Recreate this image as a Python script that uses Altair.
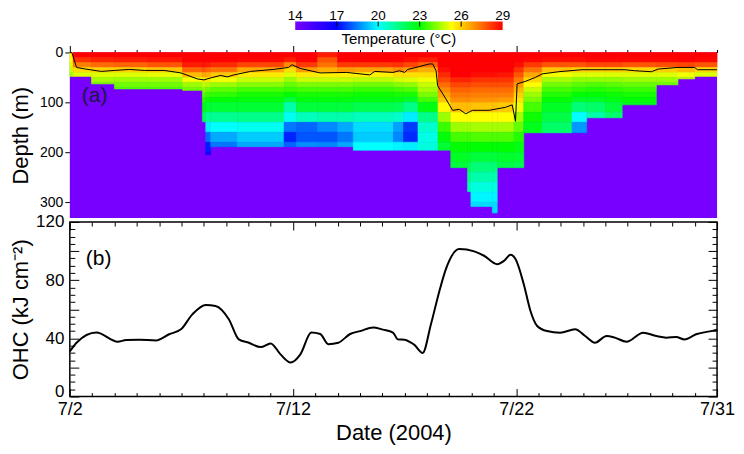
import altair as alt
import pandas as pd

FONT = "Liberation Sans"

# ---------------- colour scale (temperature, deg C) ----------------
temp_stops = [14, 15.5, 17, 20, 23, 25.3, 27.2, 29]
temp_colors = ["#7800ff", "#3c00ff", "#0000ff", "#00ffff", "#00ff00", "#ffff00", "#ff8000", "#ff0000"]
cbar_labels = [14, 17, 20, 23, 26, 29]
cbar_ticks = [17, 20, 23, 26]

# ---------------- panel (a): temperature section ----------------
depth_edges = [0, 10, 20, 30, 40, 50, 60, 70, 80, 90, 100, 120, 140, 160, 180,
               200, 220, 240, 260, 280, 300, 320, 340]
# column edges in July day-of-month
col_edges = [2.00, 2.15, 2.97, 4.00, 5.50, 7.05, 7.94, 8.09, 8.31, 9.50, 11.60, 12.15,
             13.10, 14.00, 14.70, 16.50, 16.95, 17.60, 18.50, 19.07, 19.82, 19.97, 20.93,
             21.15, 21.90, 22.34, 23.16, 24.50, 25.16, 26.00, 26.75, 28.28, 29.25, 30.00, 31.00]
col_bottom = [48, 48, 63, 73, 73, 76, 139, 205, 189, 189, 189, 189, 189, 189, 196, 196, 196,
              196, 196, 231, 279, 309, 322, 231, 231, 161, 161, 161, 131, 131, 105, 65, 53, 48]
col_profiles = [
    [25.5, 25.3, 25.0, 24.8, 24.5],
    [29.0, 28.3, 27.2, 25.8, 25.0],
    [29.0, 28.5, 27.5, 26.0, 25.0, 24.5, 24.1],
    [29.0, 28.6, 27.6, 26.0, 25.0, 24.4, 24.0, 23.7],
    [29.0, 28.7, 27.8, 26.2, 25.1, 24.4, 24.0, 23.7],
    [29.0, 29.0, 28.6, 27.6, 26.3, 25.2, 24.4, 24.0],
    [29.0, 29.0, 28.7, 27.8, 26.6, 25.6, 24.8, 24.3, 23.8, 23.4, 22.8, 22.0],
    [29.0, 29.0, 28.6, 27.6, 26.5, 25.6, 24.6, 24.0, 23.5, 23.1, 22.4, 21.3, 19.8, 18.3, 17.3, 16.6],
    [29.0, 29.0, 28.4, 27.4, 26.1, 25.2, 24.4, 23.8, 23.4, 23.0, 22.4, 21.3, 20.0, 19.0, 18.4],
    [29.0, 28.9, 28.0, 26.6, 25.6, 24.8, 24.2, 23.6, 23.2, 22.9, 22.4, 21.4, 20.2, 19.4, 19.0],
    [29.0, 28.6, 27.0, 25.8, 25.0, 24.4, 23.9, 23.5, 23.0, 22.4, 21.0, 20.2, 18.4, 17.4, 18.2],
    [29.0, 29.0, 28.2, 26.8, 25.6, 24.8, 24.1, 23.6, 23.2, 22.9, 22.3, 20.8, 18.2, 18.0, 18.7],
    [28.6, 27.8, 27.4, 26.5, 25.5, 24.8, 24.1, 23.6, 23.2, 22.9, 22.3, 21.0, 18.6, 18.0, 18.6],
    [29.0, 29.0, 28.2, 26.8, 25.5, 24.8, 24.1, 23.6, 23.2, 22.9, 22.3, 21.0, 19.0, 18.4, 19.0],
    [29.0, 29.0, 28.2, 26.7, 25.5, 24.7, 24.0, 23.5, 23.1, 22.8, 22.1, 20.8, 19.6, 19.4, 20.0],
    [29.0, 29.0, 28.3, 27.0, 25.8, 24.9, 24.2, 23.6, 23.2, 22.8, 22.0, 20.6, 18.9, 18.6, 19.9],
    [29.0, 28.8, 28.0, 26.8, 25.8, 25.0, 24.3, 23.7, 23.2, 22.6, 21.4, 19.8, 17.7, 17.5, 19.8],
    [29.0, 28.6, 27.6, 26.5, 25.8, 25.2, 24.8, 24.5, 24.1, 23.6, 22.8, 21.4, 20.6, 20.3, 20.4],
    [29.0, 29.0, 29.0, 28.8, 28.4, 28.0, 27.5, 27.0, 26.6, 26.2, 25.4, 24.4, 23.5, 22.9, 22.4],
    [29.0, 29.0, 29.0, 29.0, 29.0, 28.5, 28.0, 27.6, 27.3, 27.0, 26.3, 25.3, 24.4, 23.6, 23.0, 22.6, 22.3],
    [29.0, 29.0, 29.0, 29.0, 29.0, 28.5, 28.0, 27.6, 27.3, 27.0, 26.3, 25.3, 24.4, 23.6, 23.0, 22.5, 22.1, 21.5, 21.0],
    [29.0, 29.0, 29.0, 29.0, 28.8, 28.3, 27.9, 27.5, 27.2, 26.9, 26.2, 25.3, 24.5, 23.7, 23.0, 22.3, 21.6, 21.0, 20.4, 19.9, 19.6],
    [29.0, 29.0, 29.0, 29.0, 28.8, 28.3, 27.9, 27.5, 27.2, 26.9, 26.2, 25.3, 24.5, 23.7, 23.0, 22.3, 21.6, 21.0, 20.4, 19.9, 19.6, 19.4],
    [29.0, 29.0, 29.0, 29.0, 28.7, 28.3, 27.9, 27.5, 27.2, 26.8, 26.1, 25.3, 24.5, 23.7, 23.0, 22.5, 22.2],
    [29.0, 29.0, 28.8, 28.3, 27.8, 27.3, 26.8, 26.4, 26.0, 25.7, 25.2, 24.5, 23.9, 23.3, 22.8, 22.4, 22.1],
    [29.0, 28.9, 28.2, 27.4, 26.6, 25.9, 25.3, 24.8, 24.4, 24.1, 23.6, 23.1, 22.7, 22.5],
    [29.0, 28.8, 27.8, 26.2, 25.2, 24.5, 24.0, 23.6, 23.3, 23.0, 22.6, 22.2, 21.8, 21.5],
    [29.0, 28.8, 27.8, 26.0, 25.0, 24.3, 23.8, 23.4, 23.0, 22.6, 21.6, 20.0, 18.8, 18.6],
    [29.0, 28.9, 28.0, 26.0, 25.0, 24.3, 23.7, 23.3, 23.0, 22.6, 21.8, 21.0],
    [29.0, 28.9, 28.0, 26.0, 25.0, 24.3, 23.8, 23.4, 23.1, 22.8, 22.3, 21.7],
    [29.0, 28.9, 27.8, 25.9, 25.0, 24.4, 23.9, 23.5, 23.2, 23.0, 22.7],
    [29.0, 28.9, 27.9, 26.0, 25.0, 24.4, 24.0],
    [29.0, 29.0, 28.0, 26.3, 25.2, 24.6],
    [29.0, 28.9, 27.8, 25.9, 25.0],
]
# black isotherm line
iso_day = [2.00, 2.09, 2.30, 2.67, 3.41, 4.00, 4.67, 5.34, 6.23, 6.98, 7.71, 8.01, 8.31, 8.76, 9.05,
           9.35, 10.09, 11.13, 11.80, 11.95, 12.32, 13.21, 14.40, 15.44, 15.66, 16.48, 16.77,
           17.00, 17.14, 17.51, 18.11, 18.26, 18.41, 18.48, 18.85, 19.15, 19.45, 19.74, 20.04,
           20.78, 21.52, 21.82, 21.97, 22.04, 22.41, 22.86, 23.16, 23.90, 24.94, 25.98, 26.87,
           27.31, 28.06, 28.36, 29.25, 29.99, 30.13, 31.00]
iso_depth = [0, 0, 30, 33, 38, 36, 34, 36, 36, 41, 53, 55, 51, 46, 49,
             45, 38, 34, 30, 24.5, 32, 41, 40, 45, 38, 40, 36.6,
             40, 34, 30, 23, 23, 36.6, 66.6, 93, 116, 114, 123, 116,
             116, 110, 105, 138, 63, 58, 50, 43, 38.6, 34.6, 34.6, 34.6,
             36.6, 38.6, 33.3, 30, 30, 34.6, 34.6]

# ---------------- panel (b): ocean heat content ----------------
ohc_day = [2.00, 2.30, 3.19, 4.15, 4.52, 5.12, 5.86, 6.45, 6.98, 7.49, 8.09, 8.53, 9.13, 9.57,
           10.02, 10.55, 11.00, 11.44, 11.89, 12.33, 12.82, 13.22, 13.58, 14.03, 14.56, 15.01,
           15.59, 16.03, 16.48, 16.70, 17.00, 17.29, 17.44, 17.81, 18.18, 18.56, 18.85, 19.45,
           20.12, 20.56, 21.15, 21.45, 21.75, 21.97, 22.34, 22.64, 22.94, 23.38, 23.97, 24.64,
           25.09, 25.53, 26.05, 26.42, 26.94, 27.69, 28.28, 28.73, 29.17, 29.54, 30.06, 30.88, 31.00]
ohc_value = [31, 37, 44, 37.7, 38.8, 39, 38.6, 42.8, 46.2, 56.5, 63, 62.3, 53, 39.3,
             37, 34, 36.5, 29, 23.4, 29, 44, 43, 36, 37, 43, 45,
             47.5, 46, 44, 39.3, 39.0, 37, 35.5, 30, 49.7, 72.6, 87.6, 101.4,
             99.8, 96.8, 91, 93.3, 97.5, 94.5, 77.2, 58.8, 48.5, 45, 43.9, 46.2,
             41.6, 37, 41.6, 40.5, 37.7, 43.9, 41.6, 40.5, 40.9, 39.3, 42.8, 45.5, 46]

depth_ticks = [0, 100, 200, 300]
ohc_ticks = [0, 40, 80, 120]
date_labels = [2, 12, 22, 31]
date_major_a = [2, 12, 22]
DAY_MIN, DAY_MAX = 2, 31
DEPTH_MAX = 332
OHC_MAX = 120

W, HC, HA, HB = 649, 27, 166, 175
CB_RANGE = [226, 434]

# ---------------- tables ----------------
rows = []
for s, e, b, prof in zip(col_edges[:-1], col_edges[1:], col_bottom, col_profiles):
    for j, t in enumerate(prof):
        top = depth_edges[j]
        if top >= b:
            break
        rows.append({"x0": s, "x1": e, "d0": top, "d1": min(depth_edges[j + 1], b), "temp": t})
cells = pd.DataFrame(rows)
bg = pd.DataFrame({"x0": [DAY_MIN], "x1": [DAY_MAX], "d0": [0], "d1": [DEPTH_MAX], "temp": [temp_stops[0]]})
iso_df = pd.DataFrame({"day": iso_day, "depth": iso_depth})
ohc_df = pd.DataFrame({"day": ohc_day, "ohc": ohc_value})

color_scale = alt.Scale(domain=temp_stops, range=temp_colors, interpolate="rgb", clamp=True)
xa = alt.Scale(domain=[DAY_MIN, DAY_MAX], nice=False, zero=False)
ya = alt.Scale(domain=[0, DEPTH_MAX], reverse=True, nice=False, zero=False)


def is_in(vals):
    return " || ".join(f"datum.value == {v}" for v in vals)


# ---------------- colour bar (own row) ----------------
cb_scale = alt.Scale(domain=[temp_stops[0], temp_stops[-1]], range=CB_RANGE, nice=False, zero=False)
span = temp_stops[-1] - temp_stops[0]
gradient = alt.LinearGradient(
    gradient="linear", x1=0, x2=1, y1=0, y2=0,
    stops=[alt.GradientStop(offset=(t - temp_stops[0]) / span, color=c)
           for t, c in zip(temp_stops, temp_colors)])
cb_rect = alt.Chart(pd.DataFrame({"lo": [temp_stops[0]], "hi": [temp_stops[-1]]})).mark_rect(
    fill=gradient).encode(
    x=alt.X("lo:Q", scale=cb_scale, axis=None), x2="hi:Q", y=alt.value(0), y2=alt.value(8.5))
cb_tick = alt.Chart(pd.DataFrame({"v": cbar_ticks})).mark_rule(color="black", strokeWidth=1).encode(
    x=alt.X("v:Q", scale=cb_scale, axis=None), y=alt.value(0), y2=alt.value(5))
cb_lab = alt.Chart(pd.DataFrame({"v": cbar_labels})).mark_text(
    fontSize=13.5, baseline="alphabetic", align="center", color="black").encode(
    x=alt.X("v:Q", scale=cb_scale, axis=None), y=alt.value(-1.5), text="v:Q")
cb_title = alt.Chart(pd.DataFrame({"v": [(temp_stops[0] + temp_stops[-1]) / 2],
                                   "t": ["Temperature (°C)"]})).mark_text(
    fontSize=15, baseline="middle", align="center", color="black").encode(
    x=alt.X("v:Q", scale=cb_scale, axis=None), y=alt.value(17), text="t:N")
cbar = alt.layer(cb_rect, cb_tick, cb_lab, cb_title).properties(width=W, height=HC)

# ---------------- panel (a) ----------------
top_axis_a = alt.Axis(orient="top", values=list(range(DAY_MIN, DAY_MAX + 1)), labels=False,
                      domain=False, grid=False, title=None, tickColor="black", tickWidth=1,
                      tickSize={"condition": {"test": is_in(date_major_a), "value": 7}, "value": 3})
left_axis_a = alt.Axis(orient="left", values=depth_ticks, title="Depth (m)", tickSize=5,
                       tickColor="black", tickWidth=1, domain=False, grid=False, labelFontSize=14,
                       labelPadding=2, titleFontSize=22, titlePadding=7)

bg_layer = alt.Chart(bg).mark_rect().encode(
    x=alt.X("x0:Q", scale=xa, axis=top_axis_a), x2="x1:Q",
    y=alt.Y("d0:Q", scale=ya, axis=left_axis_a), y2="d1:Q",
    color=alt.Color("temp:Q", scale=color_scale, legend=None))
cell_layer = alt.Chart(cells).mark_rect(strokeWidth=0.6).encode(
    x=alt.X("x0:Q", scale=xa, axis=top_axis_a), x2="x1:Q",
    y=alt.Y("d0:Q", scale=ya, axis=left_axis_a), y2="d1:Q",
    color=alt.Color("temp:Q", scale=color_scale, legend=None),
    stroke=alt.Stroke("temp:Q", scale=color_scale, legend=None))
iso_line = alt.Chart(iso_df).mark_line(color="black", strokeWidth=1).encode(
    x=alt.X("day:Q", scale=xa, axis=top_axis_a), y=alt.Y("depth:Q", scale=ya, axis=left_axis_a))
label_a = alt.Chart(pd.DataFrame({"t": ["(a)"]})).mark_text(
    fontSize=21, align="left", baseline="middle", color="#1a1a40").encode(
    x=alt.value(12), y=alt.value(44), text="t:N")
panel_a = alt.layer(bg_layer, cell_layer, iso_line, label_a).properties(width=W, height=HA)

# ---------------- panel (b) ----------------
xb = alt.Scale(domain=[DAY_MIN, DAY_MAX], nice=False, zero=False)
yb = alt.Scale(domain=[0, OHC_MAX], nice=False, zero=False)
all_days = list(range(DAY_MIN, DAY_MAX + 1))
ohc_minor = list(range(0, OHC_MAX + 1, 5))
x_tick_size = {"condition": {"test": is_in(date_labels), "value": 8}, "value": 4}
y_tick_size = {"condition": {"test": "datum.value % 20 === 0", "value": 9}, "value": 5}

bottom_axis = alt.Axis(orient="bottom", values=date_labels, labelExpr="'7/' + datum.value",
                       ticks=False, tickSize=0, domain=False, grid=False, labelFontSize=18,
                       labelPadding=4, labelFlush=False, labelOverlap=False,
                       title="Date (2004)", titleFontSize=22, titlePadding=4)
left_axis_b = alt.Axis(orient="left", values=ohc_ticks, ticks=False, tickSize=0, domain=False,
                       grid=False, labelFontSize=17, labelPadding=6,
                       labelBaseline={"condition": {"test": "datum.value == 0", "value": "alphabetic"},
                                      "value": "middle"},
                       title="OHC (kJ cm⁻²)", titleFontSize=22, titlePadding=3)


def tick_axis(orient, offset, values, size):
    return alt.Axis(orient=orient, offset=offset, values=values, labels=False, domain=False,
                    grid=False, title=None, tickColor="black", tickWidth=1, tickSize=size)


line_b = alt.Chart(ohc_df).mark_line(color="black", strokeWidth=2, interpolate="monotone").encode(
    x=alt.X("day:Q", scale=xb, axis=bottom_axis), y=alt.Y("ohc:Q", scale=yb, axis=left_axis_b))
ticks_1 = alt.Chart(ohc_df).mark_line(opacity=0).encode(
    x=alt.X("day:Q", scale=xb, axis=tick_axis("top", -HB, all_days, x_tick_size)),
    y=alt.Y("ohc:Q", scale=yb, axis=tick_axis("right", -W, ohc_minor, y_tick_size)))
ticks_2 = alt.Chart(ohc_df).mark_line(opacity=0).encode(
    x=alt.X("day:Q", scale=xb, axis=tick_axis("bottom", -HB, all_days, x_tick_size)),
    y=alt.Y("ohc:Q", scale=yb, axis=tick_axis("left", -W, ohc_minor, y_tick_size)))
label_b = alt.Chart(pd.DataFrame({"t": ["(b)"]})).mark_text(
    fontSize=21, align="left", baseline="middle", color="black").encode(
    x=alt.value(16), y=alt.value(37), text="t:N")

panel_b = alt.layer(line_b, ticks_1, ticks_2, label_b).resolve_axis(
    x="independent", y="independent").properties(
    width=W, height=HB, view=alt.ViewBackground(stroke="black", strokeWidth=1.5))

chart = alt.VConcatChart(vconcat=[cbar, panel_a, panel_b], spacing=4, bounds="flush",
                         padding=0).resolve_scale(
    x="independent", y="independent").configure(
    font=FONT).configure_view(stroke=None).configure_axis(
    labelFont=FONT, titleFont=FONT, labelColor="black", titleColor="black",
    titleFontWeight="normal").configure_text(font=FONT)

chart.save("out.html", embed_options={"renderer": "svg", "actions": False})
